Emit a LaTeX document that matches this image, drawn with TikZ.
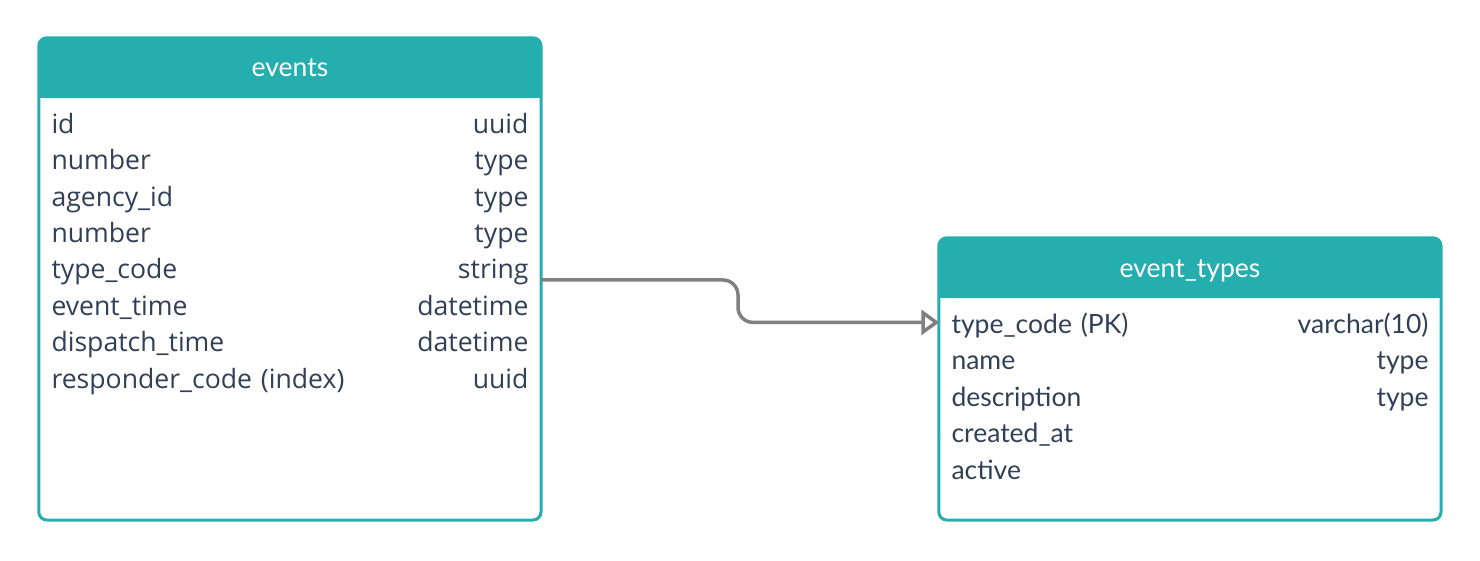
\documentclass[tikz,border=0pt]{standalone}
\usepackage{fontspec}
\setmainfont{Lato}
\newfontfamily\opensans{Open Sans}
\usepackage{xcolor}
\usepackage{tikz}
\usetikzlibrary{arrows.meta, positioning, backgrounds}

\definecolor{tealhead}{RGB}{36,175,174}
\definecolor{inktext}{RGB}{48,64,86}
\definecolor{linkgray}{RGB}{128,128,128}

\begin{document}
\begin{tikzpicture}[
        x=1pt, y=-1pt,
        tablebox/.style={
            draw=tealhead,
            line width=3pt,
            rounded corners=8pt
        },
        headbox/.style={
            rectangle,
            minimum width=502pt,
            minimum height=60pt,
            inner sep=0pt,
            text height=24pt,
            text depth=6pt,
            text=white,
            font=\fontsize{26.5}{30}\selectfont
        },
        rowbox/.style={
            rectangle,
            text width=477pt,
            inner xsep=12pt,
            inner ysep=0pt,
            text height=24pt,
            text depth=12pt,
            align=left,
            text=inktext,
            font=\fontsize{26.5}{30}\selectfont
        },
        evrow/.style={
            rowbox,
            font=\opensans\fontsize{26.6}{30}\selectfont
        },
        link/.style={
            draw=linkgray,
            line width=3.5pt,
            rounded corners=15pt,
            -{Triangle[open, length=18pt, width=25pt, line width=3.5pt]}
        }
    ]

    \useasboundingbox (0,0) rectangle (1480,561);

    % events table
    \node (ev-head) [headbox] at (290,68) {events};
    \coordinate (ev-foot) at (541,520);
    \node (ev-1) [evrow, below=11pt of ev-head] {id\hfill uuid};
    \node (ev-2) [evrow, below=0pt of ev-1] {number\hfill type};
    \node (ev-3) [evrow, below=0pt of ev-2] {agency\_id\hfill type};
    \node (ev-4) [evrow, below=0pt of ev-3] {number\hfill type};
    \node (ev-5) [evrow, below=0pt of ev-4] {type\_code\hfill string};
    \node (ev-6) [evrow, below=0pt of ev-5] {event\_time\hfill datetime};
    \node (ev-7) [evrow, below=0pt of ev-6] {dispatch\_time\hfill datetime};
    \node (ev-8) [evrow, below=0pt of ev-7] {responder\_code (index)\hfill uuid};

    % event_types table
    \node (et-head) [headbox] at (1190,268) {event\_types};
    \coordinate (et-foot) at (1441,520);
    \node (et-1) [rowbox, below=11pt of et-head] {type\_code (PK)\hfill varchar(10)};
    \node (et-2) [rowbox, below=0pt of et-1] {name\hfill type};
    \node (et-3) [rowbox, below=0pt of et-2] {description\hfill type};
    \node (et-4) [rowbox, below=0pt of et-3] {created\_at};
    \node (et-5) [rowbox, below=0pt of et-4] {active};

    \begin{scope}[on background layer]
        \fill [tealhead, rounded corners=8pt] (ev-head.north west) rectangle (ev-head.south east);
        \fill [tealhead] (ev-head.west) rectangle (ev-head.south east);
        \draw [tablebox] (ev-head.north west) rectangle (ev-foot);
        \fill [tealhead, rounded corners=8pt] (et-head.north west) rectangle (et-head.south east);
        \fill [tealhead] (et-head.west) rectangle (et-head.south east);
        \draw [tablebox] (et-head.north west) rectangle (et-foot);
    \end{scope}

    % foreign key
    \coordinate (fk-from) at ([yshift=-7pt]ev-5.east);
    \coordinate (fk-to) at ([yshift=5pt]et-1.west);
    \coordinate (bend) at (738,300);
    \draw [link] (fk-from) -| (bend |- fk-to) -- (fk-to);

\end{tikzpicture}
\end{document}
